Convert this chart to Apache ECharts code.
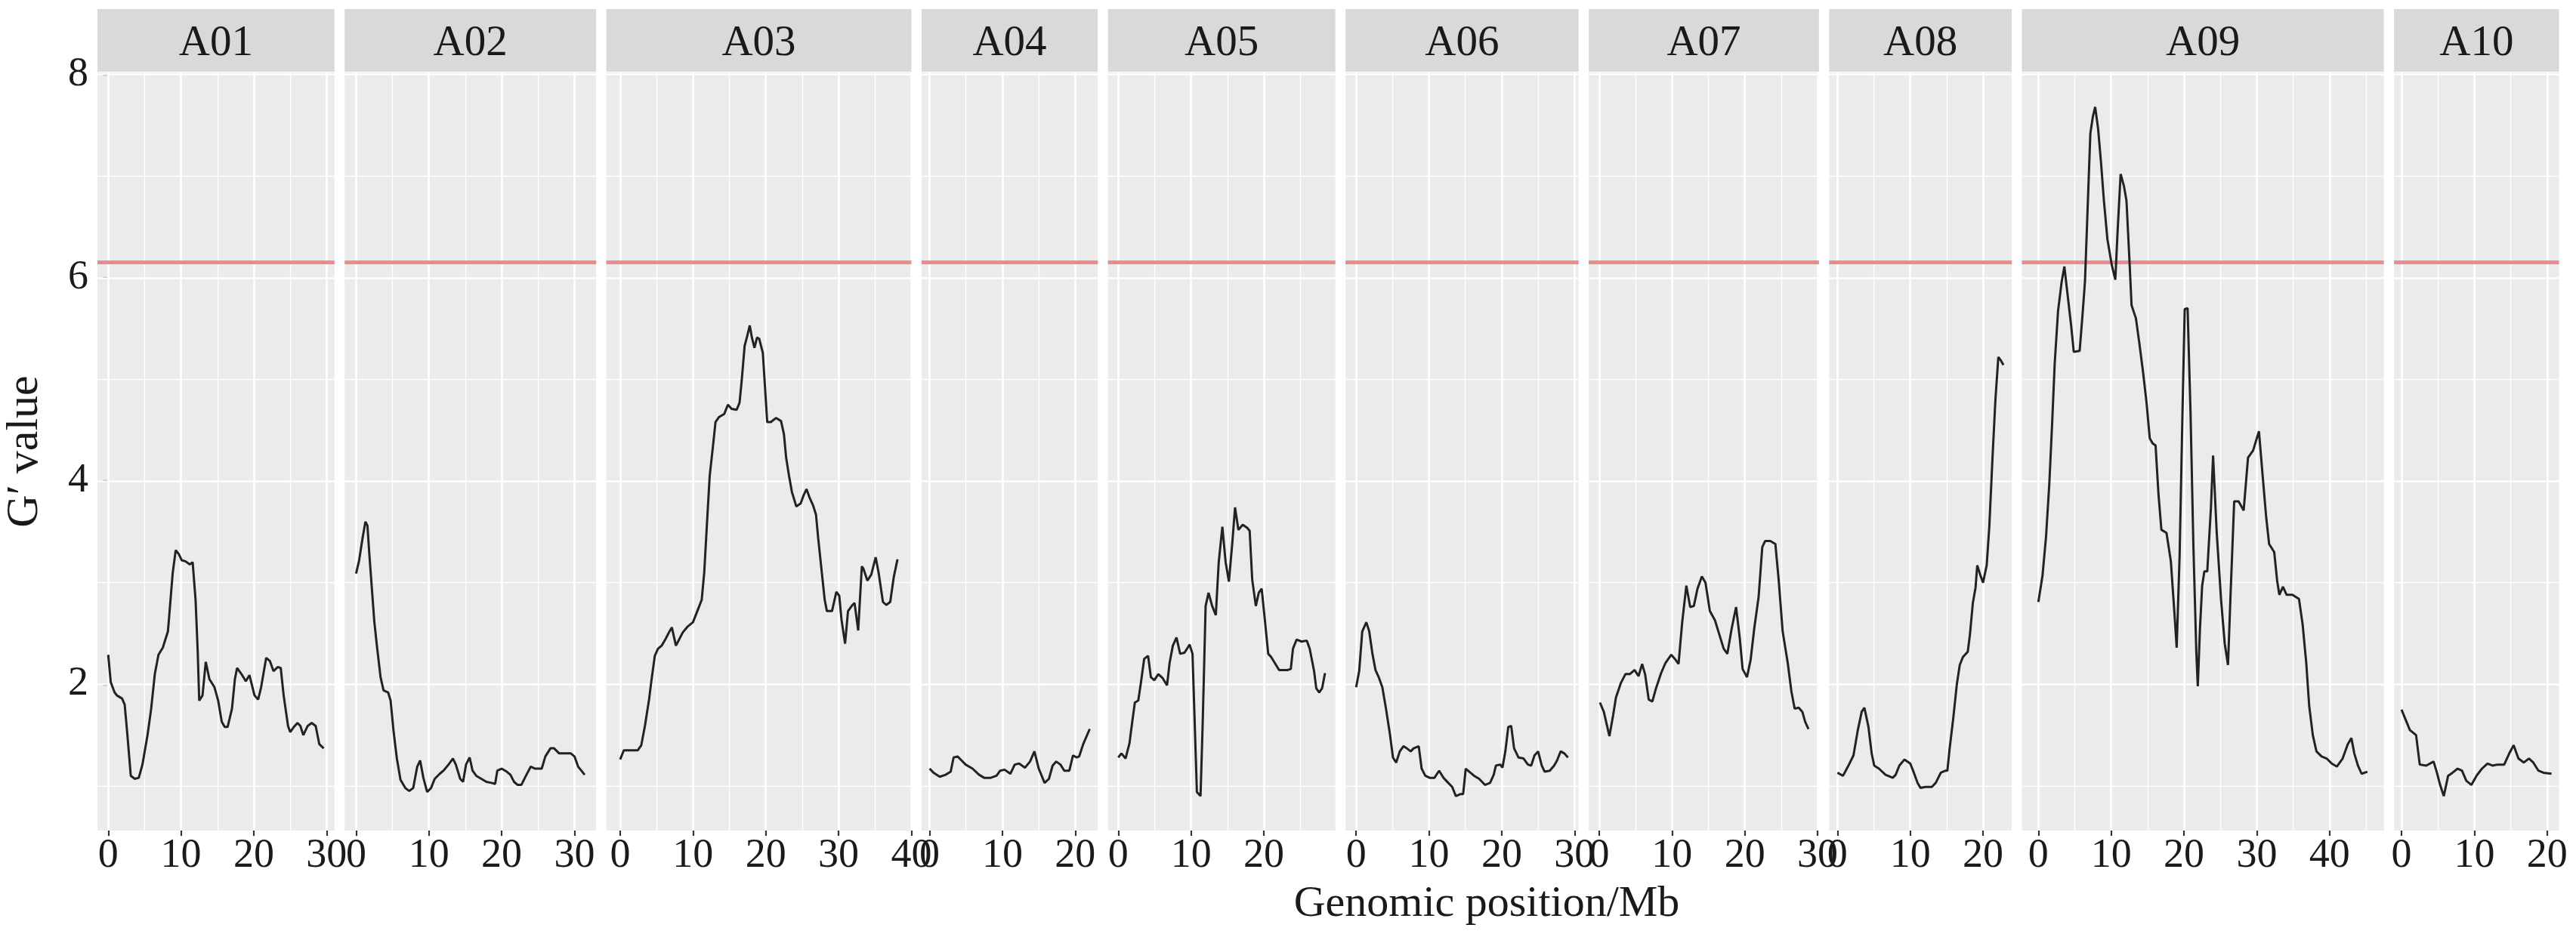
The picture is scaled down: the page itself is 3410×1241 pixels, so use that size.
<!DOCTYPE html>
<html>
<head>
<meta charset="utf-8">
<script src="https://cdn.jsdelivr.net/npm/echarts@6/dist/echarts.min.js"></script>
<style>
html,body{margin:0;padding:0;background:#fff;}
#chart{width:3410px;height:1241px;}
</style>
</head>
<body>
<div id="chart"></div>
<script>
const chromosomes = ['A01','A02','A03','A04','A05','A06','A07','A08','A09','A10'];

const A01 = [[0,2.29],[0.35,2.02],[0.87,1.92],[1.2,1.89],[1.9,1.86],[2.26,1.80],[2.6,1.53],[3.1,1.10],[3.65,1.07],[4.2,1.08],[4.7,1.21],[5.4,1.50],[5.9,1.76],[6.4,2.10],[6.9,2.29],[7.5,2.36],[8.2,2.52],[8.5,2.78],[8.85,3.09],[9.27,3.32],[9.7,3.28],[10.1,3.22],[10.6,3.21],[11.2,3.18],[11.6,3.20],[12.0,2.83],[12.3,2.31],[12.5,1.84],[12.95,1.89],[13.4,2.22],[13.9,2.05],[14.6,1.97],[15.1,1.84],[15.6,1.63],[16.0,1.58],[16.4,1.58],[17.0,1.76],[17.4,2.05],[17.7,2.16],[18.4,2.09],[18.9,2.03],[19.4,2.09],[20.1,1.89],[20.6,1.85],[21.0,1.97],[21.7,2.26],[22.2,2.23],[22.7,2.13],[23.3,2.17],[23.7,2.16],[24.1,1.89],[24.7,1.59],[25.0,1.53],[25.5,1.58],[26.0,1.62],[26.4,1.59],[26.8,1.50],[27.4,1.59],[27.95,1.62],[28.5,1.59],[29.0,1.41],[29.6,1.37]];

const A02 = [[0,3.09],[0.42,3.22],[0.87,3.43],[1.28,3.60],[1.56,3.56],[1.8,3.30],[2.15,2.96],[2.5,2.62],[2.84,2.39],[3.36,2.07],[3.77,1.94],[4.4,1.92],[4.74,1.84],[5.16,1.53],[5.6,1.27],[6.1,1.06],[6.75,0.98],[7.3,0.95],[7.85,0.98],[8.4,1.19],[8.8,1.25],[9.24,1.08],[9.76,0.94],[10.3,0.98],[10.8,1.07],[11.5,1.12],[12.0,1.15],[12.7,1.21],[13.3,1.27],[13.7,1.21],[14.3,1.07],[14.7,1.04],[15.1,1.21],[15.6,1.28],[16.0,1.15],[16.5,1.10],[17.2,1.07],[17.9,1.04],[18.6,1.03],[19.1,1.02],[19.4,1.15],[20.0,1.17],[20.7,1.14],[21.2,1.11],[21.7,1.04],[22.2,1.01],[22.7,1.01],[23.4,1.11],[24.0,1.19],[24.6,1.17],[25.5,1.17],[26.0,1.29],[26.7,1.37],[27.2,1.37],[27.9,1.32],[28.6,1.32],[29.5,1.32],[30.0,1.29],[30.5,1.19],[31.4,1.11]];

const A03 = [[0,1.26],[0.5,1.35],[1.2,1.35],[2.4,1.35],[2.9,1.40],[3.4,1.59],[3.97,1.85],[4.3,2.04],[4.76,2.28],[5.2,2.35],[5.7,2.38],[6.2,2.44],[6.7,2.51],[7.1,2.56],[7.66,2.38],[8.1,2.44],[8.6,2.51],[9.3,2.57],[10.0,2.61],[10.6,2.72],[11.2,2.83],[11.55,3.10],[11.9,3.55],[12.3,4.05],[12.76,4.35],[13.1,4.58],[13.6,4.63],[14.3,4.66],[14.8,4.75],[15.3,4.71],[16.0,4.70],[16.4,4.77],[16.7,4.99],[17.1,5.33],[17.4,5.41],[17.8,5.53],[18.1,5.41],[18.45,5.31],[18.8,5.41],[19.1,5.40],[19.6,5.26],[19.9,4.92],[20.2,4.58],[20.7,4.58],[21.4,4.62],[22.1,4.59],[22.5,4.46],[22.8,4.23],[23.2,4.05],[23.6,3.89],[24.2,3.75],[24.8,3.78],[25.2,3.86],[25.6,3.92],[26.0,3.84],[26.5,3.76],[26.9,3.67],[27.2,3.44],[27.7,3.10],[28.1,2.83],[28.4,2.72],[29.1,2.72],[29.7,2.91],[30.1,2.87],[30.4,2.64],[30.9,2.40],[31.3,2.72],[31.9,2.78],[32.2,2.80],[32.7,2.53],[33.2,3.16],[33.4,3.14],[33.97,3.02],[34.5,3.08],[35.1,3.25],[35.5,3.10],[36.1,2.81],[36.55,2.78],[37.1,2.81],[37.6,3.06],[38.1,3.23]];

const A04 = [[0,1.17],[0.55,1.13],[1.4,1.09],[2.2,1.11],[2.9,1.14],[3.3,1.28],[3.85,1.29],[4.4,1.25],[4.95,1.21],[5.9,1.17],[6.8,1.11],[7.5,1.08],[8.4,1.08],[9.2,1.10],[9.7,1.15],[10.3,1.16],[11.1,1.12],[11.7,1.21],[12.3,1.22],[13.1,1.18],[13.8,1.24],[14.4,1.34],[15.0,1.17],[15.8,1.03],[16.4,1.07],[16.9,1.20],[17.4,1.24],[17.98,1.21],[18.5,1.15],[19.2,1.15],[19.7,1.30],[20.2,1.28],[20.55,1.29],[21.1,1.41],[22.0,1.56]];

const A05 = [[0,1.28],[0.44,1.32],[1.0,1.27],[1.54,1.42],[1.9,1.62],[2.28,1.82],[2.75,1.84],[3.1,2.01],[3.56,2.25],[4.1,2.28],[4.48,2.07],[4.95,2.04],[5.5,2.10],[6.1,2.06],[6.7,1.99],[7.05,2.21],[7.5,2.38],[8.0,2.46],[8.5,2.30],[9.1,2.31],[9.8,2.39],[10.2,2.30],[10.5,1.62],[10.8,0.94],[11.3,0.90],[11.6,1.62],[12.0,2.77],[12.4,2.90],[12.9,2.77],[13.4,2.68],[13.8,3.20],[14.3,3.55],[14.75,3.20],[15.2,3.01],[15.7,3.42],[16.04,3.74],[16.5,3.52],[17.1,3.57],[17.7,3.54],[18.05,3.51],[18.4,3.03],[18.9,2.77],[19.3,2.90],[19.7,2.94],[20.1,2.66],[20.6,2.30],[20.99,2.27],[21.5,2.21],[22.1,2.14],[23.2,2.14],[23.7,2.15],[24.0,2.35],[24.5,2.44],[25.2,2.42],[25.9,2.43],[26.3,2.35],[26.9,2.13],[27.2,1.96],[27.6,1.92],[28.0,1.96],[28.4,2.11]];

const A06 = [[0,1.97],[0.42,2.13],[0.84,2.52],[1.4,2.61],[1.8,2.52],[2.24,2.30],[2.66,2.14],[3.1,2.07],[3.6,1.97],[4.1,1.76],[4.64,1.51],[5.06,1.28],[5.5,1.23],[6.0,1.34],[6.5,1.39],[6.96,1.37],[7.5,1.34],[7.9,1.37],[8.6,1.39],[9.0,1.17],[9.5,1.10],[10.1,1.08],[10.76,1.08],[11.4,1.15],[12.0,1.08],[12.66,1.03],[13.2,0.99],[13.7,0.90],[14.35,0.92],[14.7,0.92],[15.06,1.17],[15.7,1.13],[16.2,1.10],[16.9,1.07],[17.7,1.01],[18.4,1.03],[18.9,1.11],[19.2,1.20],[19.8,1.21],[20.1,1.18],[20.5,1.34],[20.9,1.58],[21.3,1.59],[21.7,1.37],[22.3,1.28],[23.0,1.27],[23.6,1.21],[24.05,1.20],[24.5,1.30],[25.0,1.34],[25.5,1.20],[25.9,1.14],[26.6,1.15],[27.2,1.20],[27.6,1.25],[28.1,1.34],[28.6,1.32],[29.1,1.28]];

const A07 = [[0.1,1.82],[0.63,1.73],[1.4,1.49],[1.9,1.69],[2.3,1.87],[2.96,2.01],[3.6,2.10],[4.2,2.10],[4.86,2.14],[5.4,2.08],[5.9,2.20],[6.3,2.10],[6.8,1.85],[7.3,1.83],[7.8,1.96],[8.5,2.11],[9.1,2.21],[9.9,2.29],[10.4,2.25],[10.9,2.20],[11.4,2.61],[11.97,2.97],[12.5,2.76],[13.0,2.77],[13.5,2.94],[14.1,3.06],[14.6,3.00],[15.2,2.72],[15.9,2.63],[16.5,2.49],[17.1,2.35],[17.6,2.30],[18.2,2.55],[18.8,2.76],[19.3,2.46],[19.7,2.15],[20.3,2.07],[20.8,2.24],[21.3,2.55],[21.9,2.86],[22.4,3.35],[22.8,3.41],[23.5,3.41],[24.2,3.38],[24.65,3.03],[25.2,2.52],[25.9,2.21],[26.4,1.93],[26.85,1.76],[27.4,1.77],[27.9,1.73],[28.3,1.63],[28.75,1.56]];

const A08 = [[0,1.13],[0.76,1.10],[1.44,1.19],[2.2,1.30],[2.8,1.55],[3.33,1.73],[3.7,1.77],[4.26,1.58],[4.7,1.32],[5.05,1.20],[5.7,1.17],[6.6,1.11],[7.6,1.08],[8.0,1.11],[8.5,1.20],[9.2,1.26],[10.0,1.22],[10.5,1.13],[11.0,1.03],[11.4,0.98],[12.1,0.99],[12.96,0.99],[13.5,1.03],[14.2,1.13],[14.85,1.15],[15.1,1.15],[15.4,1.36],[15.9,1.66],[16.4,2.00],[16.8,2.19],[17.25,2.27],[17.9,2.32],[18.2,2.49],[18.6,2.80],[18.97,2.95],[19.2,3.17],[19.6,3.08],[20.0,3.00],[20.5,3.17],[20.86,3.55],[21.3,4.23],[21.7,4.80],[22.1,5.22],[22.5,5.18],[22.8,5.14]];

const A09 = [[0,2.81],[0.57,3.07],[1.05,3.45],[1.5,3.97],[1.9,4.58],[2.24,5.15],[2.7,5.67],[3.2,5.96],[3.57,6.11],[4.05,5.81],[4.5,5.53],[4.86,5.27],[5.67,5.28],[6.05,5.62],[6.4,5.96],[6.76,6.67],[7.14,7.42],[7.5,7.59],[7.8,7.68],[8.2,7.47],[8.6,7.14],[9.0,6.76],[9.48,6.38],[10.1,6.12],[10.57,5.98],[10.9,6.48],[11.3,7.02],[11.76,6.90],[12.1,6.76],[12.5,6.19],[12.8,5.73],[13.4,5.60],[13.9,5.34],[14.4,5.06],[14.86,4.77],[15.3,4.42],[15.7,4.37],[16.1,4.35],[16.5,3.87],[16.9,3.52],[17.6,3.49],[18.2,3.21],[18.7,2.69],[19.0,2.36],[19.4,3.26],[19.8,4.68],[20.1,5.69],[20.5,5.70],[20.9,4.68],[21.3,3.35],[21.7,2.31],[21.9,1.98],[22.2,2.55],[22.5,2.97],[22.8,3.11],[23.2,3.11],[23.7,3.73],[24.0,4.25],[24.5,3.49],[25.1,2.83],[25.6,2.40],[26.05,2.19],[26.4,2.88],[26.9,3.80],[27.5,3.80],[28.2,3.71],[28.8,4.23],[29.5,4.30],[30.3,4.49],[30.8,4.06],[31.3,3.64],[31.7,3.38],[32.4,3.30],[32.8,3.02],[33.1,2.88],[33.6,2.96],[34.1,2.88],[34.9,2.88],[35.8,2.84],[36.3,2.59],[36.8,2.21],[37.2,1.79],[37.7,1.50],[38.2,1.34],[38.9,1.29],[39.6,1.27],[40.3,1.22],[41.0,1.19],[41.8,1.27],[42.5,1.41],[43.0,1.47],[43.4,1.32],[43.9,1.20],[44.4,1.12],[45.2,1.14]];

const A10 = [[0,1.75],[0.57,1.65],[1.14,1.55],[2.0,1.50],[2.5,1.21],[3.4,1.20],[4.4,1.24],[4.86,1.13],[5.3,1.01],[5.8,0.90],[6.4,1.10],[7.0,1.13],[7.7,1.17],[8.3,1.15],[8.9,1.05],[9.6,1.01],[10.3,1.10],[11.05,1.17],[11.8,1.22],[12.5,1.20],[13.2,1.21],[14.1,1.21],[14.8,1.32],[15.4,1.40],[16.05,1.27],[16.8,1.23],[17.5,1.27],[18.1,1.23],[18.8,1.15],[19.5,1.13],[20.6,1.12]];

const yMajorTicks = [2, 4, 6, 8];
const yMinorTicks = [1, 3, 5, 7];
const threshold = 6.15;
const xTitle = 'Genomic position/Mb';
const yTitle = 'G\u2032 value';

const allData = [A01, A02, A03, A04, A05, A06, A07, A08, A09, A10];

// ---- layout (ggplot facet_grid, free x, free space) ----
const FONT = '"Liberation Serif", "Times New Roman", serif';
const plotLeft = 129, plotRight = 3387.5, gap = 13.5;
const panelTop = 96, panelBottom = 1100;
const stripTop = 12;

const ranges = allData.map(d => d[d.length - 1][0]);
const sumR = ranges.reduce((a, b) => a + b, 0);
const pxPerUnit = (plotRight - plotLeft - gap * (allData.length - 1)) / (1.1 * sumR);

let allY = [];
allData.forEach(d => d.forEach(p => allY.push(p[1])));
const dMin = Math.min(...allY), dMax = Math.max(...allY);
const yMin = dMin - 0.05 * (dMax - dMin);
const yMax = dMax + 0.05 * (dMax - dMin);

const grids = [], xAxes = [], yAxes = [], series = [], graphics = [];
let cursor = plotLeft;
allData.forEach((d, i) => {
  const R = ranges[i];
  const w = 1.1 * R * pxPerUnit;
  const xmin = -0.05 * R, xmax = 1.05 * R;
  grids.push({left: cursor, top: panelTop, width: w, height: panelBottom - panelTop,
    show: true, backgroundColor: '#EBEBEB', borderWidth: 0});
  const major = [], minor = [];
  for (let v = 0; v <= xmax + 1e-9; v += 5) {
    if (v >= xmin) { (v % 10 === 0 ? major : minor).push(v); }
  }
  xAxes.push({
    type: 'value', gridIndex: i, min: xmin, max: xmax,
    axisLine: {show: false},
    splitLine: {show: false},
    axisTick: {show: true, customValues: major, length: 7, lineStyle: {color: '#333333', width: 2.2}},
    axisLabel: {show: true, customValues: major, fontFamily: FONT, fontSize: 54, color: '#1a1a1a', margin: 7}
  });
  yAxes.push({
    type: 'value', gridIndex: i, min: yMin, max: yMax,
    axisLine: {show: false},
    splitLine: {show: false},
    axisTick: {show: i === 0, customValues: yMajorTicks, length: 7, lineStyle: {color: '#333333', width: 2.2}},
    axisLabel: {show: i === 0, customValues: yMajorTicks, fontFamily: FONT, fontSize: 54, color: '#1a1a1a', margin: 12}
  });
  const gridLines = [];
  minor.forEach(v => gridLines.push({xAxis: v, lineStyle: {color: '#ffffff', width: 1.3, type: 'solid'}}));
  yMinorTicks.forEach(v => gridLines.push({yAxis: v, lineStyle: {color: '#ffffff', width: 1.3, type: 'solid'}}));
  major.forEach(v => gridLines.push({xAxis: v, lineStyle: {color: '#ffffff', width: 2.6, type: 'solid'}}));
  yMajorTicks.forEach(v => gridLines.push({yAxis: v, lineStyle: {color: '#ffffff', width: 2.6, type: 'solid'}}));
  series.push({
    type: 'line', xAxisIndex: i, yAxisIndex: i, data: [], z: 1, silent: true,
    markLine: {silent: true, symbol: ['none', 'none'], label: {show: false}, animation: false, data: gridLines}
  });
  series.push({
    type: 'line', xAxisIndex: i, yAxisIndex: i, data: [], z: 2, silent: true,
    markLine: {silent: true, symbol: ['none', 'none'], label: {show: false}, animation: false,
      data: [{yAxis: threshold, lineStyle: {color: '#EF8A8A', width: 5, type: 'solid'}}]}
  });
  series.push({
    type: 'line', name: chromosomes[i], xAxisIndex: i, yAxisIndex: i, data: d, z: 5,
    showSymbol: false, symbol: 'none', smooth: false,
    lineStyle: {color: '#222222', width: 3}
  });
  graphics.push({type: 'rect', shape: {x: cursor, y: stripTop, width: w, height: panelTop - stripTop - 1},
    style: {fill: '#D9D9D9'}, silent: true});
  graphics.push({type: 'text', x: cursor + w / 2, y: 58,
    style: {text: chromosomes[i], font: '57px ' + FONT, fill: '#1a1a1a',
      textAlign: 'center', textVerticalAlign: 'middle', align: 'center', verticalAlign: 'middle'}, silent: true});
  cursor += w + gap;
});

graphics.push({type: 'text', x: 1968, y: 1198,
  style: {text: xTitle, font: '58px ' + FONT, fill: '#1a1a1a',
    textAlign: 'center', textVerticalAlign: 'middle', align: 'center', verticalAlign: 'middle'}});
graphics.push({type: 'text', x: 33, y: 598, rotation: Math.PI / 2,
  style: {text: yTitle, font: '60px ' + FONT, fill: '#1a1a1a',
    textAlign: 'center', textVerticalAlign: 'middle', align: 'center', verticalAlign: 'middle'}});

const chart = echarts.init(document.getElementById('chart'), null, {renderer: 'canvas'});
chart.setOption({
  animation: false,
  backgroundColor: '#ffffff',
  grid: grids,
  xAxis: xAxes,
  yAxis: yAxes,
  series: series,
  graphic: {elements: graphics}
});
</script>
</body>
</html>
